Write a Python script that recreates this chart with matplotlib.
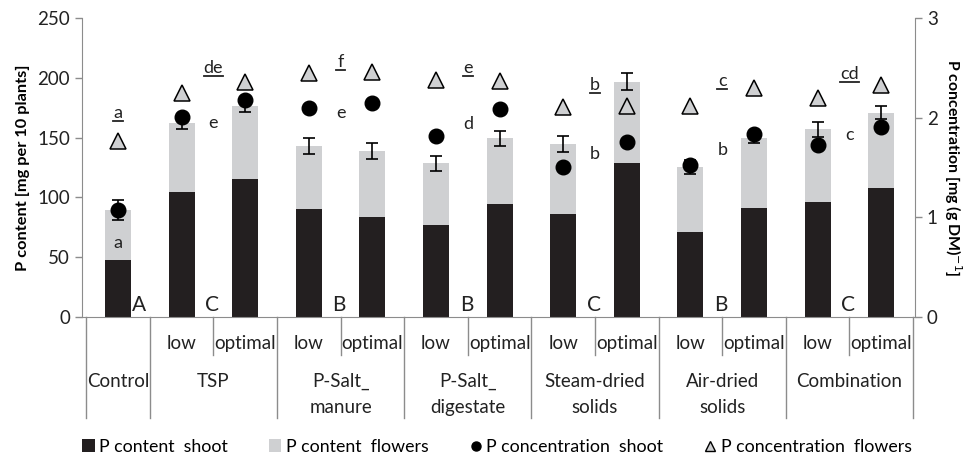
import matplotlib.pyplot as plt
import matplotlib.transforms as mtransforms
from matplotlib.lines import Line2D
from matplotlib.patches import Patch
import numpy as np

plt.rcParams['font.family'] = ['Lato', 'DejaVu Sans']
plt.rcParams['font.size'] = 12

# datos
sub_labels = ['', 'low', 'optimal', 'low', 'optimal', 'low', 'optimal',
              'low', 'optimal', 'low', 'optimal', 'low', 'optimal']
groups = ['Control', 'TSP', 'P-Salt_\nmanure', 'P-Salt_\ndigestate',
          'Steam-dried\nsolids', 'Air-dried\nsolids', 'Combination']
group_spans = [(0, 0), (1, 2), (3, 4), (5, 6), (7, 8), (9, 10), (11, 12)]

content_shoot = [47.5, 104.7, 115.1, 90.0, 83.8, 76.6, 94.4, 85.8, 129.0, 71.2, 90.8, 96.4, 108.1]
content_total = [89.5, 162.5, 176.5, 143.0, 138.8, 128.5, 149.5, 144.7, 196.9, 125.2, 149.5, 157.0, 170.9]
content_err = [8.5, 5.0, 5.5, 6.5, 6.5, 6.3, 6.3, 6.7, 7.0, 5.8, 4.2, 6.3, 5.6]
content_flowers = [t - s for t, s in zip(content_total, content_shoot)]
conc_shoot = [1.07, 2.01, 2.18, 2.10, 2.15, 1.82, 2.09, 1.51, 1.76, 1.53, 1.84, 1.73, 1.91]
conc_flowers = [1.77, 2.25, 2.36, 2.45, 2.46, 2.38, 2.37, 2.11, 2.12, 2.12, 2.30, 2.20, 2.33]

# letras de significancia (grupo)
upper_letters = ['A', 'C', 'B', 'B', 'C', 'B', 'C']
under_letters = ['a', 'de', 'f', 'e', 'b', 'c', 'cd']
under_y = [170.7, 208.4, 213.4, 208.4, 194.3, 197.7, 203.3]
low_letters = ['a', 'e', 'e', 'd', 'b', 'b', 'c']
low_y = [61.7, 162.3, 170.7, 161.4, 136.3, 139.7, 152.2]

dark = '#231f20'
light = '#cfd0d2'
axis_gray = '#8c8c8c'
txt = '#222222'

fig = plt.figure(figsize=(9.69, 4.55), dpi=100)
ax = fig.add_axes([82 / 969, 1 - 317 / 455, (915 - 82) / 969, (317 - 18) / 455])
ax2 = ax.twinx()

x = np.arange(len(content_shoot))
w = 0.41
ax.bar(x, content_shoot, w, color=dark, zorder=2)
ax.bar(x, content_flowers, w, bottom=content_shoot, color=light, zorder=2)
ax.errorbar(x, content_total, yerr=content_err, fmt='none', ecolor='black',
            elinewidth=1.2, capsize=4.5, capthick=1.2, zorder=3)

ax2.plot(x, conc_shoot, 'o', color='black', markersize=10.5, zorder=4)
ax2.plot(x, conc_flowers, '^', markerfacecolor=light, markeredgecolor='black',
         markeredgewidth=1.1, markersize=11, zorder=4)

ax.set_xlim(-0.565, 12.53)
ax.set_ylim(0, 250)
ax.set_yticks(np.arange(0, 251, 50))
ax2.set_ylim(0, 3)
ax2.set_yticks([0, 1, 2, 3])
ax.set_xticks([])

for a in (ax, ax2):
    for s in a.spines.values():
        s.set_color(axis_gray)
    a.spines['top'].set_visible(False)
    a.tick_params(axis='y', colors=axis_gray, labelcolor=txt, length=5,
                  width=1, labelsize=13.5)
ax.spines['right'].set_visible(False)
ax2.spines['left'].set_visible(False)
ax2.spines['bottom'].set_visible(False)

ax.set_ylabel('P content [mg per 10 plants]', fontsize=11.8, fontweight='bold',
              labelpad=5)
ax2.set_ylabel('P concentration [mg (g DM)$^{-1}$]', fontsize=11.4,
               fontweight='bold', rotation=270, labelpad=19)

# etiquetas jerarquicas del eje x
trans = mtransforms.blended_transform_factory(ax.transData, ax.transAxes)
for i, lab in enumerate(sub_labels):
    if lab:
        ax.text(i, -0.087, lab, transform=trans, ha='center', va='center',
                fontsize=13.5, color=txt)
for (a0, a1), g in zip(group_spans, groups):
    ax.text((a0 + a1) / 2, -0.188, g, transform=trans, ha='center', va='top',
            fontsize=13.5, linespacing=1.6, color=txt)
    ax.plot([a0 - 0.5, a0 - 0.5], [0, -0.338], transform=trans, color=axis_gray,
            lw=1, clip_on=False)
    if a1 > a0:
        ax.plot([a0 + 0.5, a0 + 0.5], [0, -0.127], transform=trans,
                color=axis_gray, lw=1, clip_on=False)
ax.plot([12.5, 12.5], [0, -0.338], transform=trans, color=axis_gray, lw=1,
        clip_on=False)

# letras
for k, ((a0, a1), up, ul, uy, ll, ly) in enumerate(
        zip(group_spans, upper_letters, under_letters, under_y, low_letters, low_y)):
    if a1 > a0:
        xc = a0 + 0.5
        xu = xc - 0.02
    else:
        xc = a0
        xu = a0 + 0.33
    ax.text(xu, 9.8, up, ha='center', va='center', fontsize=15, color=txt,
            zorder=5)
    ax.text(xc, uy, ul, ha='center', va='center', fontsize=13, color=txt,
            zorder=5)
    half = 0.075 * len(ul)
    ax.plot([xc - half, xc + half], [uy - 7.0, uy - 7.0], color=txt, lw=1.3,
            zorder=5)
    ax.text(xc, ly, ll, ha='center', va='center', fontsize=13, color=txt,
            zorder=5)

handles = [
    Patch(facecolor=dark, edgecolor='none'),
    Patch(facecolor=light, edgecolor='none'),
    Line2D([], [], marker='o', color='black', linestyle='none', markersize=6.5),
    Line2D([], [], marker='^', markerfacecolor=light, markeredgecolor='black',
           linestyle='none', markersize=7),
]
labels = ['P content  shoot', 'P content  flowers', 'P concentration  shoot',
          'P concentration  flowers']
fig.legend(handles, labels, loc='center', bbox_to_anchor=(0.513, 0.018), ncol=4,
           frameon=False, fontsize=12.8, handlelength=0.7, handleheight=0.7,
           handletextpad=0.25, columnspacing=2.3)

fig.savefig('out.png', dpi=100)
